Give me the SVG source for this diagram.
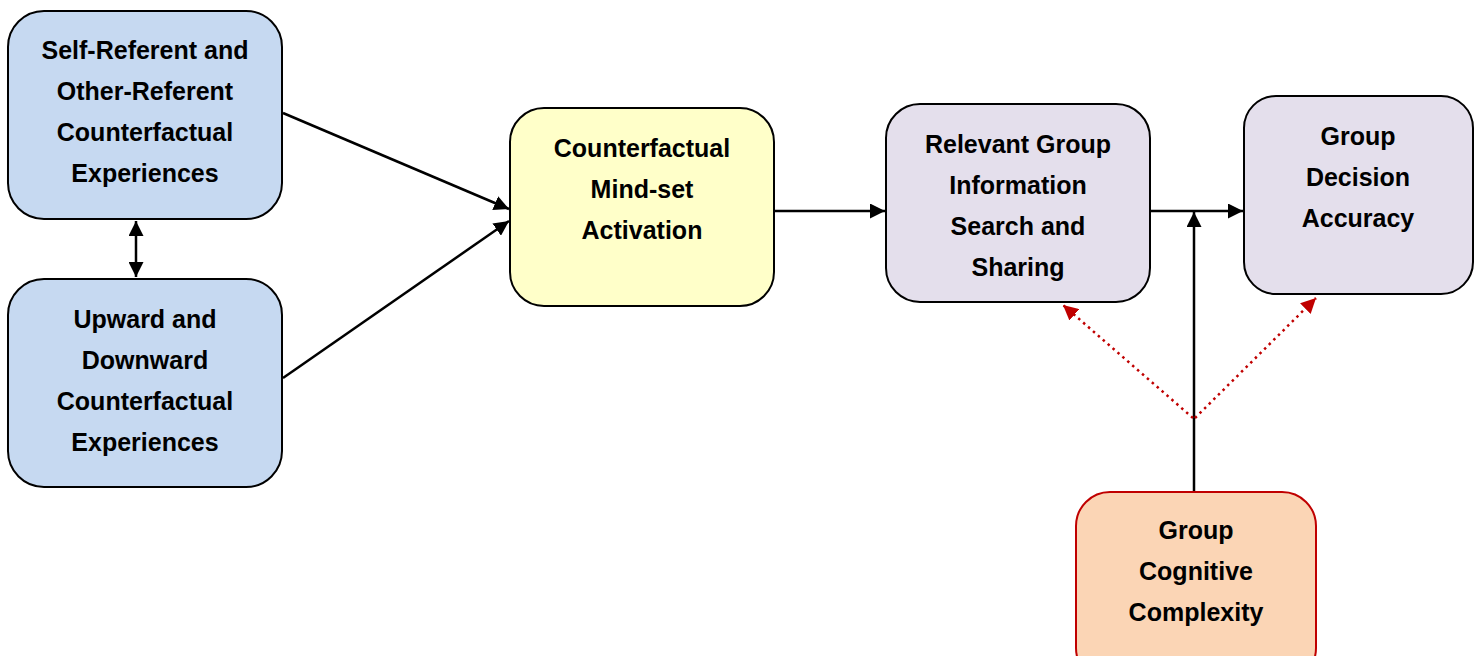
<svg xmlns="http://www.w3.org/2000/svg" width="1483" height="656" viewBox="0 0 1483 656">
<style>
.box{stroke:#000;stroke-width:2}
.t{font-family:"Liberation Sans",Arial,sans-serif;font-weight:bold;font-size:25px;fill:#000;text-anchor:middle;dominant-baseline:central}
.c{stroke:#000;stroke-width:2.5;fill:none}
.r{stroke:#c00000;stroke-width:2.5;fill:none;stroke-dasharray:2.5 4}
</style>
<defs>
<marker id="ah" viewBox="0 0 10 10" refX="10" refY="5" markerWidth="6" markerHeight="6" orient="auto-start-reverse" markerUnits="strokeWidth"><path d="M0,0 L10,5 L0,10 z" fill="#000"/></marker>
<marker id="ar" viewBox="0 0 10 10" refX="10" refY="5" markerWidth="6" markerHeight="6" orient="auto" markerUnits="strokeWidth"><path d="M0,0 L10,5 L0,10 z" fill="#c00000"/></marker>
</defs>
<rect width="1483" height="656" fill="#fff"/>
<g id="connectors">
<line class="c" x1="136" y1="221" x2="136" y2="277" marker-start="url(#ah)" marker-end="url(#ah)"/>
<line class="c" x1="283" y1="113" x2="509" y2="209" marker-end="url(#ah)"/>
<line class="c" x1="283" y1="378" x2="509" y2="221" marker-end="url(#ah)"/>
<line class="c" x1="775" y1="211" x2="885" y2="211" marker-end="url(#ah)"/>
<line class="c" x1="1151" y1="211" x2="1243" y2="211" marker-end="url(#ah)"/>
<line class="c" x1="1194" y1="492" x2="1194" y2="212" marker-end="url(#ah)"/>
<line class="r" x1="1193" y1="418" x2="1063" y2="305" marker-end="url(#ar)"/>
<line class="r" x1="1195" y1="418" x2="1316" y2="298" marker-end="url(#ar)"/>
</g>
<g id="n1">
<rect class="box" x="8" y="11" width="274" height="208" rx="36" fill="#c6d9f1"/>
<text class="t" x="145" y="50">Self-Referent and</text>
<text class="t" x="145" y="91">Other-Referent</text>
<text class="t" x="145" y="132">Counterfactual</text>
<text class="t" x="145" y="173">Experiences</text>
</g>
<g id="n2">
<rect class="box" x="8" y="279" width="274" height="208" rx="36" fill="#c6d9f1"/>
<text class="t" x="145" y="319">Upward and</text>
<text class="t" x="145" y="360">Downward</text>
<text class="t" x="145" y="401">Counterfactual</text>
<text class="t" x="145" y="442">Experiences</text>
</g>
<g id="n3">
<rect class="box" x="510" y="108" width="264" height="198" rx="34" fill="#ffffc9"/>
<text class="t" x="642" y="148">Counterfactual</text>
<text class="t" x="642" y="189">Mind-set</text>
<text class="t" x="642" y="230">Activation</text>
</g>
<g id="n4">
<rect class="box" x="886" y="104" width="264" height="198" rx="34" fill="#e4dfec"/>
<text class="t" x="1018" y="144">Relevant Group</text>
<text class="t" x="1018" y="185">Information</text>
<text class="t" x="1018" y="226">Search and</text>
<text class="t" x="1018" y="267">Sharing</text>
</g>
<g id="n5">
<rect class="box" x="1244" y="96" width="229" height="198" rx="32" fill="#e4dfec"/>
<text class="t" x="1358" y="136">Group</text>
<text class="t" x="1358" y="177">Decision</text>
<text class="t" x="1358" y="218">Accuracy</text>
</g>
<g id="n6">
<rect x="1076" y="492" width="240" height="190" rx="34" fill="#fbd5b5" stroke="#c00000" stroke-width="2"/>
<text class="t" x="1196" y="530">Group</text>
<text class="t" x="1196" y="571">Cognitive</text>
<text class="t" x="1196" y="612">Complexity</text>
</g>
</svg>
